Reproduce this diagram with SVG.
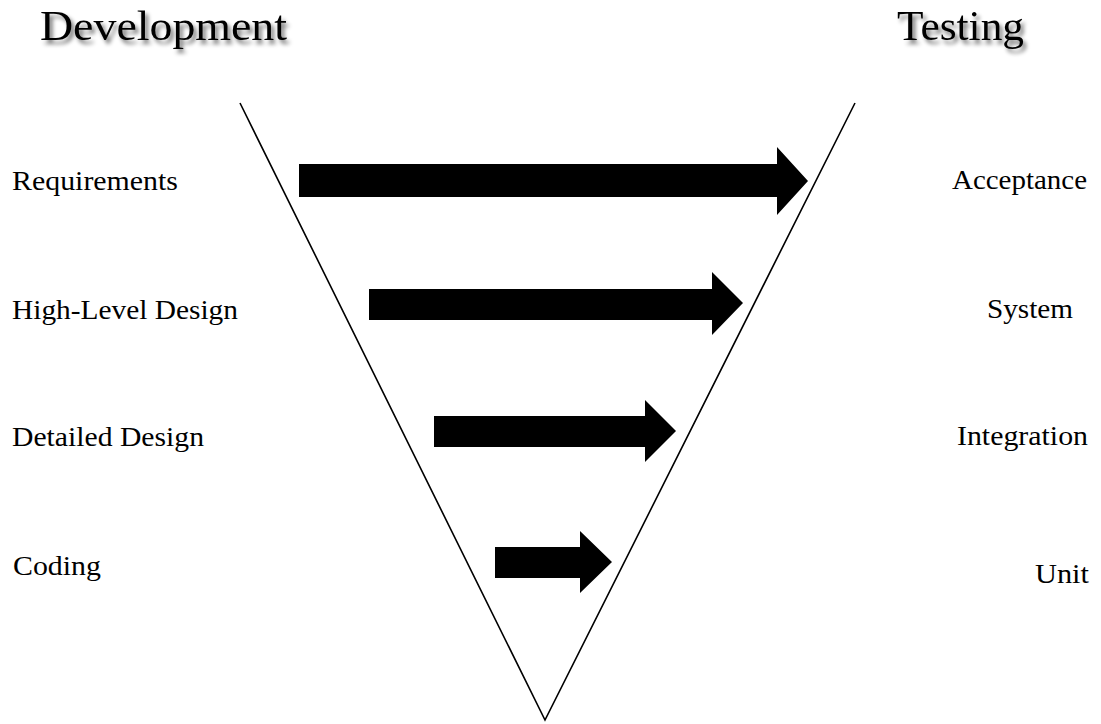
<svg xmlns="http://www.w3.org/2000/svg" width="1101" height="724" viewBox="0 0 1101 724">
<style>
.lbl{font-family:"Liberation Serif","DejaVu Serif",serif;font-size:27px;fill:#000}
.ttl{font-family:"Liberation Serif","DejaVu Serif",serif;font-size:42px;fill:#000}
.v{stroke:#000;stroke-width:1.6;fill:none}
.arr{fill:#000}
</style>
<defs>
<filter id="sh" x="-10%" y="-30%" width="120%" height="170%">
<feGaussianBlur in="SourceAlpha" stdDeviation="2.2"/>
<feOffset dx="3" dy="4" result="b"/>
<feComponentTransfer in="b" result="c"><feFuncA type="linear" slope="0.55"/></feComponentTransfer>
<feMerge><feMergeNode in="c"/><feMergeNode in="SourceGraphic"/></feMerge>
</filter>
</defs>
<rect width="1101" height="724" fill="#fff"/>
<g id="title-development"><text class="ttl" x="40" y="40" textLength="247" lengthAdjust="spacingAndGlyphs" filter="url(#sh)">Development</text></g>
<g id="title-testing"><text class="ttl" x="897" y="40" textLength="127" lengthAdjust="spacingAndGlyphs" filter="url(#sh)">Testing</text></g>
<g id="vee"><polyline class="v" points="240,103 545,720 855,103"/></g>
<g id="connectors">
<polygon class="arr" points="299,164 777,164 777,147 808,181 777,215 777,197 299,197"/>
<polygon class="arr" points="369,289 712,289 712,272 743,303 712,335 712,320 369,320"/>
<polygon class="arr" points="434,416 645,416 645,400 676,431 645,462 645,447 434,447"/>
<polygon class="arr" points="495,547 580,547 580,531 612,562 580,593 580,578 495,578"/>
</g>
<g id="node-requirements"><text class="lbl" x="12" y="190" textLength="166" lengthAdjust="spacingAndGlyphs">Requirements</text></g>
<g id="node-hld"><text class="lbl" x="12" y="319" textLength="226" lengthAdjust="spacingAndGlyphs">High-Level Design</text></g>
<g id="node-dd"><text class="lbl" x="12" y="446" textLength="192" lengthAdjust="spacingAndGlyphs">Detailed Design</text></g>
<g id="node-coding"><text class="lbl" x="13" y="575" textLength="88" lengthAdjust="spacingAndGlyphs">Coding</text></g>
<g id="node-acceptance"><text class="lbl" x="952" y="189" textLength="135" lengthAdjust="spacingAndGlyphs">Acceptance</text></g>
<g id="node-system"><text class="lbl" x="987" y="318" textLength="86" lengthAdjust="spacingAndGlyphs">System</text></g>
<g id="node-integration"><text class="lbl" x="957" y="445" textLength="131" lengthAdjust="spacingAndGlyphs">Integration</text></g>
<g id="node-unit"><text class="lbl" x="1035" y="583" textLength="54" lengthAdjust="spacingAndGlyphs">Unit</text></g>
</svg>
